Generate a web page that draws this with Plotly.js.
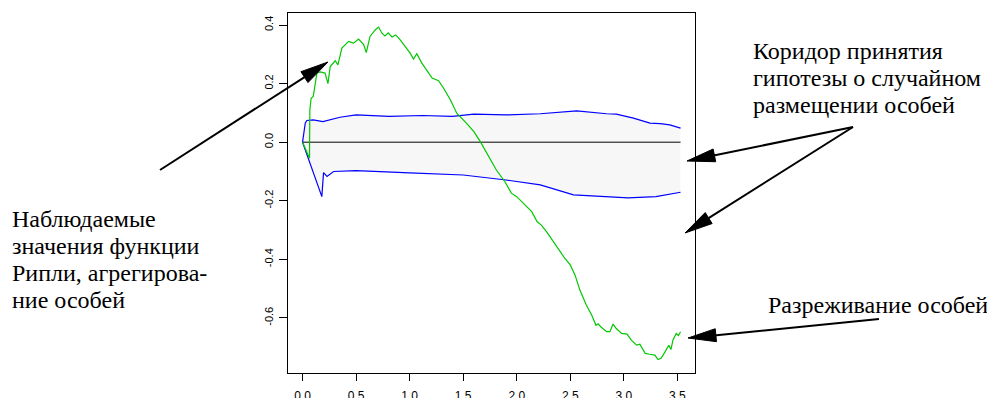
<!DOCTYPE html>
<html>
<head>
<meta charset="utf-8">
<script src="https://cdn.plot.ly/plotly-3.0.1.min.js"></script>
<style>html,body{margin:0;padding:0;background:#fff;}#chart{width:987px;height:398px;}</style>
</head>
<body>
<div id="chart"></div>
<script>
// Observed Ripley function (green)
const greenR = [0, 0.065, 0.068, 0.08, 0.10, 0.134, 0.165, 0.21, 0.237, 0.258, 0.305, 0.33, 0.367, 0.40, 0.43, 0.476, 0.523, 0.57, 0.595, 0.63, 0.68, 0.71, 0.74, 0.77, 0.80, 0.835, 0.87, 0.91, 0.96, 1.005, 1.036, 1.067, 1.114, 1.16, 1.21, 1.27, 1.316, 1.38, 1.44, 1.53, 1.60, 1.66, 1.74, 1.81, 1.89, 1.95, 2.0, 2.05, 2.09, 2.14, 2.19, 2.23, 2.28, 2.33, 2.39, 2.45, 2.50, 2.545, 2.59, 2.65, 2.70, 2.74, 2.76, 2.79, 2.84, 2.87, 2.90, 2.93, 2.98, 3.03, 3.07, 3.12, 3.15, 3.2, 3.24, 3.29, 3.32, 3.35, 3.385, 3.42, 3.44, 3.46, 3.49, 3.51, 3.53];
const greenL = [0, -0.055, 0.11, 0.15, 0.156, 0.236, 0.24, 0.236, 0.20, 0.258, 0.278, 0.264, 0.321, 0.333, 0.344, 0.338, 0.352, 0.333, 0.306, 0.361, 0.384, 0.393, 0.373, 0.363, 0.373, 0.359, 0.366, 0.35, 0.327, 0.304, 0.284, 0.302, 0.27, 0.245, 0.219, 0.21, 0.185, 0.145, 0.099, 0.065, 0.036, 0.002, -0.049, -0.095, -0.135, -0.174, -0.186, -0.203, -0.22, -0.237, -0.271, -0.283, -0.306, -0.334, -0.368, -0.397, -0.419, -0.454, -0.505, -0.556, -0.59, -0.625, -0.62, -0.632, -0.647, -0.647, -0.621, -0.636, -0.653, -0.655, -0.676, -0.693, -0.69, -0.721, -0.724, -0.727, -0.742, -0.737, -0.716, -0.693, -0.708, -0.674, -0.653, -0.66, -0.647];

// Upper envelope (blue)
const upperR = [0, 0.025, 0.04, 0.1, 0.19, 0.35, 0.5, 0.81, 1.12, 1.40, 1.6, 1.90, 2.22, 2.56, 2.84, 2.93, 3.09, 3.245, 3.34, 3.43, 3.53];
const upperL = [0, 0.065, 0.074, 0.076, 0.070, 0.085, 0.093, 0.088, 0.091, 0.088, 0.096, 0.093, 0.097, 0.107, 0.097, 0.096, 0.082, 0.065, 0.063, 0.059, 0.048];

// Lower envelope (blue)
const lowerR = [0, 0.072, 0.18, 0.196, 0.228, 0.29, 0.5, 1.0, 1.5, 1.9, 2.22, 2.53, 2.8, 3.04, 3.3, 3.53];
const lowerL = [0, -0.072, -0.186, -0.104, -0.117, -0.10, -0.097, -0.105, -0.112, -0.129, -0.146, -0.18, -0.185, -0.19, -0.186, -0.171];

// Theoretical zero line
const zeroR = [0, 3.53];
const zeroL = [0, 0];

// Tick labels
const xTicks = [0, 0.5, 1.0, 1.5, 2.0, 2.5, 3.0, 3.5];
const xTickText = ["0.0", "0.5", "1.0", "1.5", "2.0", "2.5", "3.0", "3.5"];
const yTicks = [0.4, 0.2, 0.0, -0.2, -0.4, -0.6];
const yTickText = ["0.4", "0.2", "0.0", "-0.2", "-0.4", "-0.6"];

// Annotation texts (each line separately)
const leftLines = ["Наблюдаемые", "значения функции", "Рипли, агрегирова-", "ние особей"];
const rightLines = ["Коридор принятия", "гипотезы о случайном", "размещении особей"];
const bottomLine = "Разреживание особей";

// ---- layout helpers (pixel geometry of the figure) ----
const W = 987, H = 398;
const M = {l: 288, r: 292, t: 13, b: 25};
const PW = W - M.l - M.r, PH = H - M.t - M.b;
const px = x => (x - M.l) / PW;
const py = y => (H - M.b - y) / PH;

const arrows = [
  [[160,170],[328,62]],
  [[853,127],[687,161]],
  [[853,127],[685,233]],
  [[879,319],[688,338]]
];
const shapes = [];
arrows.forEach(([s,e]) => {
  const dx = e[0]-s[0], dy = e[1]-s[1];
  const len = Math.hypot(dx,dy);
  const ux = dx/len, uy = dy/len;
  const hl = 28, hw = 6.5;
  const bx = e[0]-ux*hl, by = e[1]-uy*hl;
  const nx = -uy, ny = ux;
  shapes.push({type:'line', xref:'paper', yref:'paper', x0:px(s[0]), y0:py(s[1]), x1:px(bx+ux*2), y1:py(by+uy*2), line:{color:'#000', width:2}});
  const p1 = [bx+nx*hw, by+ny*hw], p2 = [bx-nx*hw, by-ny*hw];
  shapes.push({type:'path', xref:'paper', yref:'paper',
    path:`M${px(e[0])},${py(e[1])} L${px(p1[0])},${py(p1[1])} L${px(p2[0])},${py(p2[1])} Z`,
    fillcolor:'#000', line:{color:'#000', width:1}});
});

const mkFont = () => ({family:'Liberation Serif', size:24, color:'#000'});
const sans = 'Liberation Sans';
const annotations = [];
leftLines.forEach((t,i) => annotations.push({text:t, xref:'paper', yref:'paper', x:px(10), y:py(219+27*i), xanchor:'left', yanchor:'middle', showarrow:false, font:mkFont()}));
rightLines.forEach((t,i) => annotations.push({text:t, xref:'paper', yref:'paper', x:px(751), y:py(51+27*i), xanchor:'left', yanchor:'middle', showarrow:false, font:mkFont()}));
annotations.push({text:bottomLine, xref:'paper', yref:'paper', x:px(766), y:py(305), xanchor:'left', yanchor:'middle', showarrow:false, font:mkFont()});

const traces = [
  {x:lowerR, y:lowerL, mode:'lines', line:{width:0, color:'rgba(0,0,0,0)'}, hoverinfo:'skip', showlegend:false},
  {x:upperR, y:upperL, mode:'lines', fill:'tonexty', fillcolor:'#f7f7f7', line:{width:0, color:'rgba(0,0,0,0)'}, hoverinfo:'skip', showlegend:false},
  {x:zeroR, y:zeroL, mode:'lines', line:{color:'#000', width:1}, showlegend:false},
  {x:lowerR, y:lowerL, mode:'lines', line:{color:'#0000ff', width:1.2}, showlegend:false},
  {x:upperR, y:upperL, mode:'lines', line:{color:'#0000ff', width:1.2}, showlegend:false},
  {x:greenR, y:greenL, mode:'lines', line:{color:'#00c800', width:1.2}, showlegend:false}
];

const layout = {
  width: W, height: H,
  margin: M,
  paper_bgcolor:'#fff', plot_bgcolor:'#fff',
  showlegend:false,
  xaxis:{range:[-0.136, 3.665], tickvals:xTicks, ticktext:xTickText, ticks:'outside', ticklen:7, tickcolor:'#000', tickwidth:1,
    showgrid:false, zeroline:false, showline:true, linecolor:'#000', linewidth:1, mirror:true,
    tickfont:{family:sans, size:12, color:'#000'}, ticklabelstandoff:5},
  yaxis:{range:[-0.788, 0.441], tickvals:yTicks, ticktext:yTickText, ticks:'outside', ticklen:8, tickcolor:'#000', tickwidth:1,
    showgrid:false, zeroline:false, showline:true, linecolor:'#000', linewidth:1, mirror:true, tickangle:-90,
    tickfont:{family:sans, size:11, color:'#000'}, ticklabelstandoff:2},
  shapes: shapes,
  annotations: annotations
};

Plotly.newPlot('chart', traces, layout, {displayModeBar:false, staticPlot:true});
</script>
</body>
</html>
